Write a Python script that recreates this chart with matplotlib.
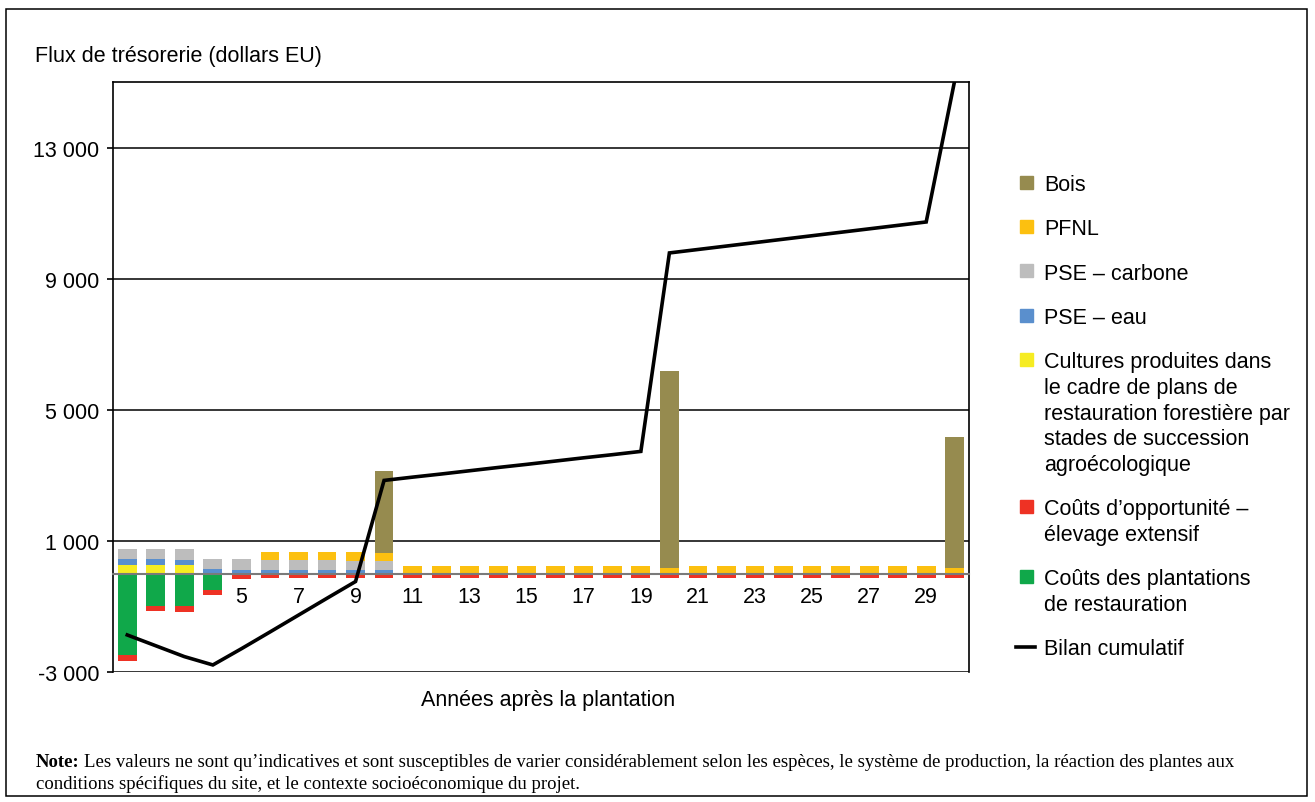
import matplotlib.pyplot as plt
import numpy as np
from matplotlib.ticker import FuncFormatter
from matplotlib.patches import Rectangle
from matplotlib.lines import Line2D

plt.rcParams['font.family'] = ['Liberation Sans', 'DejaVu Sans']

years = np.arange(1, 31)

# flux par poste (dollars EU), de l'annee 1 a 30
cultures = [275, 275, 275, 0, 0, 0, 0, 0, 0, 0,
            0, 0, 0, 0, 0, 0, 0, 0, 0, 0,
            0, 0, 0, 0, 0, 0, 0, 0, 0, 0]
pse_eau = [165, 180, 150, 145, 115, 110, 100, 100, 100, 100,
           0, 0, 0, 0, 0, 0, 0, 0, 0, 0,
           0, 0, 0, 0, 0, 0, 0, 0, 0, 0]
pse_carbone = [325, 305, 335, 305, 335, 295, 310, 310, 300, 285,
               0, 0, 0, 0, 0, 0, 0, 0, 0, 0,
               0, 0, 0, 0, 0, 0, 0, 0, 0, 0]
pfnl = [0, 0, 0, 0, 0, 255, 255, 255, 265, 245,
        235, 235, 235, 235, 235, 235, 235, 235, 235, 175,
        235, 235, 235, 235, 235, 235, 235, 235, 235, 175]
bois = [0, 0, 0, 0, 0, 0, 0, 0, 0, 2500,
        0, 0, 0, 0, 0, 0, 0, 0, 0, 6000,
        0, 0, 0, 0, 0, 0, 0, 0, 0, 4000]
couts_opport = [-185, -160, -185, -135, -150, -120, -120, -120, -120, -120,
                -125, -125, -125, -125, -125, -125, -125, -125, -125, -125,
                -125, -125, -125, -125, -125, -125, -125, -125, -125, -125]
couts_plant = [-2470, -990, -990, -510, 0, 0, 0, 0, 0, 0,
               0, 0, 0, 0, 0, 0, 0, 0, 0, 0,
               0, 0, 0, 0, 0, 0, 0, 0, 0, 0]
bilan = [-1870, -2200, -2530, -2785, -2290, -1780, -1265, -750, -240, 2845,
         2945, 3040, 3140, 3240, 3335, 3435, 3535, 3630, 3730, 9785,
         9890, 9995, 10100, 10205, 10310, 10415, 10520, 10625, 10730, 15050]

col = {
    'bois': '#968b4f',
    'pfnl': '#fcc010',
    'carbone': '#bdbdbd',
    'eau': '#5a8fcd',
    'cultures': '#f6ec22',
    'opport': '#ee3224',
    'plant': '#10a84a',
}

W, H = 1315, 803
fig = plt.figure(figsize=(W / 100, H / 100), dpi=100)


def fx(px):
    return px / W


def fy(py):
    return 1 - py / H


ax = fig.add_axes([fx(113), fy(673), fx(969) - fx(113), fy(83) - fy(673)])

bw = 0.66
# positifs empiles vers le haut, couts vers le bas
pos = [(cultures, 'cultures'), (pse_eau, 'eau'), (pse_carbone, 'carbone'),
       (pfnl, 'pfnl'), (bois, 'bois')]
bottom = np.zeros(30)
for vals, key in pos:
    ax.bar(years, vals, bw, bottom=bottom, color=col[key], zorder=1)
    bottom += np.array(vals)
ax.bar(years, couts_plant, bw, color=col['plant'], zorder=1)
ax.bar(years, couts_opport, bw, bottom=couts_plant, color=col['opport'], zorder=1)

ax.plot(years, bilan, color='black', lw=2.6, zorder=4, solid_joinstyle='miter')

ax.set_xlim(0.5, 30.5)
ax.set_ylim(-3000, 15000)
ax.set_yticks([-3000, 1000, 5000, 9000, 13000])
ax.yaxis.set_major_formatter(FuncFormatter(lambda v, p: f"{int(v):,}".replace(",", " ")))
ax.yaxis.grid(True, color='black', lw=1.1)
ax.set_axisbelow(True)

ax.set_xticks(np.arange(5, 30, 2))
ax.set_xticklabels([str(i) for i in range(5, 30, 2)])
ax.spines['bottom'].set_position(('data', 0))
ax.spines['bottom'].set_color('#7a7a7a')
ax.spines['bottom'].set_linewidth(1.5)
for s in ['left', 'top', 'right']:
    ax.spines[s].set_linewidth(1.2)
ax.tick_params(axis='x', length=0, pad=9, labelsize=15.5)
ax.tick_params(axis='y', length=4, width=1.2, direction='out', pad=6, labelsize=15.5)

fig.text(fx(35), fy(61.7), 'Flux de trésorerie (dollars EU)', fontsize=15.5, va='baseline')
fig.text(fx(548), fy(706), 'Années après la plantation', fontsize=15.5, ha='center', va='baseline')

# legende
entries = [
    (['Bois'], 'bois'),
    (['PFNL'], 'pfnl'),
    (['PSE – carbone'], 'carbone'),
    (['PSE – eau'], 'eau'),
    (['Cultures produites dans', 'le cadre de plans de',
      'restauration forestière par', 'stades de succession',
      'agroécologique'], 'cultures'),
    (['Coûts d’opportunité –', 'élevage extensif'], 'opport'),
    (['Coûts des plantations', 'de restauration'], 'plant'),
    (['Bilan cumulatif'], None),
]
y = 183.5
step = 25.8
for lines, key in entries:
    if key is None:
        fig.add_artist(Line2D([fx(1016), fx(1035)], [fy(y), fy(y)], color='black',
                              lw=2.6, transform=fig.transFigure))
    else:
        fig.add_artist(Rectangle((fx(1020), fy(y + 6.5)), fx(13), 13 / H,
                                 color=col[key], transform=fig.transFigure))
    for i, t in enumerate(lines):
        fig.text(fx(1044), fy(y + i * step + 7.7), t, fontsize=15.5, va='baseline')
    y += (len(lines) - 1) * step + 44.2

# note en bas
serif = ['Liberation Serif', 'DejaVu Serif']
note1 = ('Les valeurs ne sont qu’indicatives et sont susceptibles de varier considérablement '
         'selon les espèces, le système de production, la réaction des plantes aux')
note2 = 'conditions spécifiques du site, et le contexte socioéconomique du projet.'
nt = fig.text(fx(36), fy(771), 'Note:', fontsize=13.5, fontweight='bold', family=serif,
              va='bottom')
fig.add_artist(plt.Annotation(note1, xy=(1, 0), xycoords=nt, xytext=(3.4, 0),
                              textcoords='offset points', fontsize=13.5, family=serif,
                              va='bottom', ha='left'))
fig.text(fx(36), fy(789), note2, fontsize=13.5, family=serif, va='baseline')

fig.add_artist(Rectangle((fx(6), fy(797)), fx(1307) - fx(6), fy(10) - fy(797), fill=False,
                         edgecolor='black', lw=1.1, transform=fig.transFigure))

fig.savefig('out.png', dpi=100)
